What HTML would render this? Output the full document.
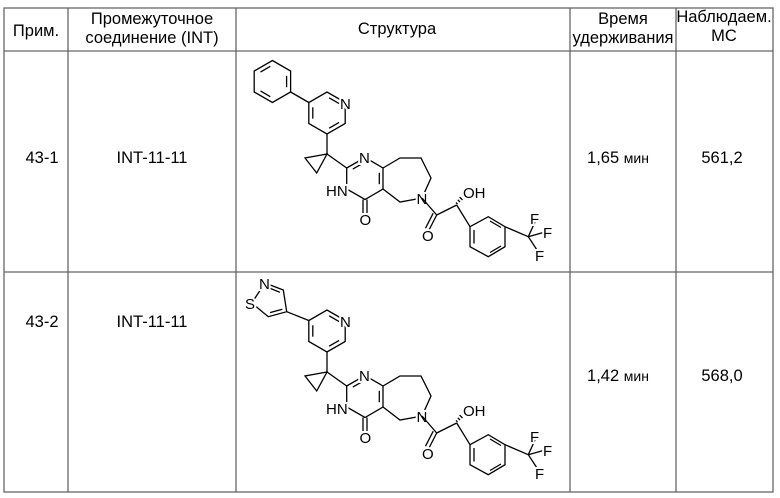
<!DOCTYPE html>
<html><head><meta charset="utf-8"><style>
html,body{margin:0;padding:0;background:#fff;}
svg{display:block;}
text{font-family:"Liberation Sans",sans-serif;fill:#000;}
.b{stroke:#000;stroke-width:1.3;fill:none;}
.t{stroke:#666;stroke-width:1.3;fill:none;}
.lab{font-size:15px;paint-order:stroke;stroke:#fff;stroke-width:4px;}
</style></head><body>
<svg width="780" height="498" viewBox="0 0 780 498" xmlns="http://www.w3.org/2000/svg">
<rect x="4" y="8" width="769" height="484" class="t"/>
<line x1="4" y1="51" x2="773" y2="51" class="t"/>
<line x1="4" y1="272" x2="773" y2="272" class="t"/>
<line x1="68" y1="8" x2="68" y2="492" class="t"/>
<line x1="236" y1="8" x2="236" y2="492" class="t"/>
<line x1="570" y1="8" x2="570" y2="492" class="t"/>
<line x1="676" y1="8" x2="676" y2="492" class="t"/>
<g font-size="16.5" text-anchor="middle">
<text x="36" y="36">Прим.</text>
<text x="152" y="24">Промежуточное</text>
<text x="152" y="43">соединение (INT)</text>
<text x="397" y="34">Структура</text>
<text x="623" y="24">Время</text>
<text x="623" y="43">удерживания</text>
<text x="724" y="22">Наблюдаем.</text>
<text x="724" y="41">МС</text>
<text x="42" y="163">43-1</text>
<text x="152" y="163">INT-11-11</text>
<text x="618" y="163">1,65 <tspan font-size="14">мин</tspan></text>
<text x="722" y="163">561,2</text>
<text x="42" y="327">43-2</text>
<text x="152" y="327">INT-11-11</text>
<text x="618" y="381">1,42 <tspan font-size="14">мин</tspan></text>
<text x="722" y="381">568,0</text>
</g>

<defs>
<g id="core">
<polyline class="b" points="345.2,102.5 327,92 308.8,102.5 308.8,123.5 327,134 345.2,123.5 345.2,102.5"/>
<line class="b" x1="329.1" y1="97.8" x2="339.1" y2="103.6"/>
<line class="b" x1="339.1" y1="122.4" x2="329.1" y2="128.2"/>
<line class="b" x1="312.8" y1="118.7" x2="312.8" y2="107.3"/>
<text class="lab" x="340" y="109">N</text>
<line class="b" x1="327" y1="134" x2="327" y2="154"/>
<polygon class="b" points="327,154 305,158 316.7,173"/>
<line class="b" x1="327" y1="154" x2="346.7" y2="168"/>
<polyline class="b" points="346.7,168 365,157.5 383,168 383,189 365,199.5 346.7,189 346.7,168"/>
<line class="b" x1="352.8" y1="169.1" x2="362.9" y2="163.3"/>
<line class="b" x1="379.3" y1="172.8" x2="379.3" y2="184.2"/>
<line class="b" x1="363" y1="199.5" x2="363" y2="213"/>
<line class="b" x1="367" y1="199.5" x2="367" y2="213"/>
<text class="lab" x="359" y="163">N</text>
<text class="lab" x="326" y="196">HN</text>
<text class="lab" x="359.5" y="225">O</text>
<polyline class="b" points="383,168 400,158 421,158 431,178 422,198 400,202 383,189"/>
<text class="lab" x="416.5" y="204">N</text>
<line class="b" x1="422" y1="198" x2="436.7" y2="215"/>
<line class="b" x1="436.7" y1="215" x2="429" y2="230"/>
<line class="b" x1="433.2" y1="213.2" x2="425.5" y2="228.2"/>
<text class="lab" x="422" y="241">O</text>
<line class="b" x1="436.7" y1="215" x2="456.7" y2="205"/>
<g class="b" stroke-width="1">
<line x1="457.5" y1="204" x2="456" y2="202.5"/>
<line x1="460" y1="202" x2="457.8" y2="199.8"/>
<line x1="462.5" y1="200" x2="459.6" y2="197.1"/>
</g>
<text class="lab" x="463" y="198">OH</text>
<line class="b" x1="456.7" y1="205" x2="470" y2="226.7"/>
<polygon class="b" points="470,226.7 488.3,216.7 505,226.7 505,246.7 488.3,256.7 470,246.7"/>
<line class="b" x1="474" y1="230" x2="474" y2="243.5"/>
<line class="b" x1="490" y1="221" x2="501" y2="227.5"/>
<line class="b" x1="490" y1="252.5" x2="501" y2="246"/>
<line class="b" x1="505" y1="226.7" x2="528.3" y2="236.7"/>
<line class="b" x1="528.3" y1="236.7" x2="535" y2="222"/>
<line class="b" x1="528.3" y1="236.7" x2="545" y2="232"/>
<line class="b" x1="528.3" y1="236.7" x2="537" y2="250"/>
<text class="lab" x="530" y="224">F</text>
<text class="lab" x="543" y="238">F</text>
<text class="lab" x="535" y="261">F</text>
</g>
</defs>

<use href="#core"/>
<polygon class="b" points="272.4,60.5 290.6,71 290.6,92 272.4,102.5 254.2,92 254.2,71"/>
<line class="b" x1="260.5" y1="72.1" x2="270.3" y2="66.3"/>
<line class="b" x1="286.6" y1="75.8" x2="286.6" y2="87.2"/>
<line class="b" x1="270.3" y1="96.7" x2="260.5" y2="90.9"/>
<line class="b" x1="290.6" y1="92" x2="308.8" y2="102.5"/>

<g transform="translate(0,218)">
<use href="#core"/>
<polyline class="b" points="265,65 283.3,72 286.7,93.7 268.3,98.7 251.7,85 265,65"/>
<line class="b" x1="268" y1="69.5" x2="280" y2="74.3"/>
<line class="b" x1="282.3" y1="91.3" x2="270" y2="94.6"/>
<line class="b" x1="286.7" y1="93.7" x2="308.8" y2="102.5"/>
<text class="lab" x="259" y="71">N</text>
<text class="lab" x="245" y="91">S</text>
</g>
</svg>
</body></html>
